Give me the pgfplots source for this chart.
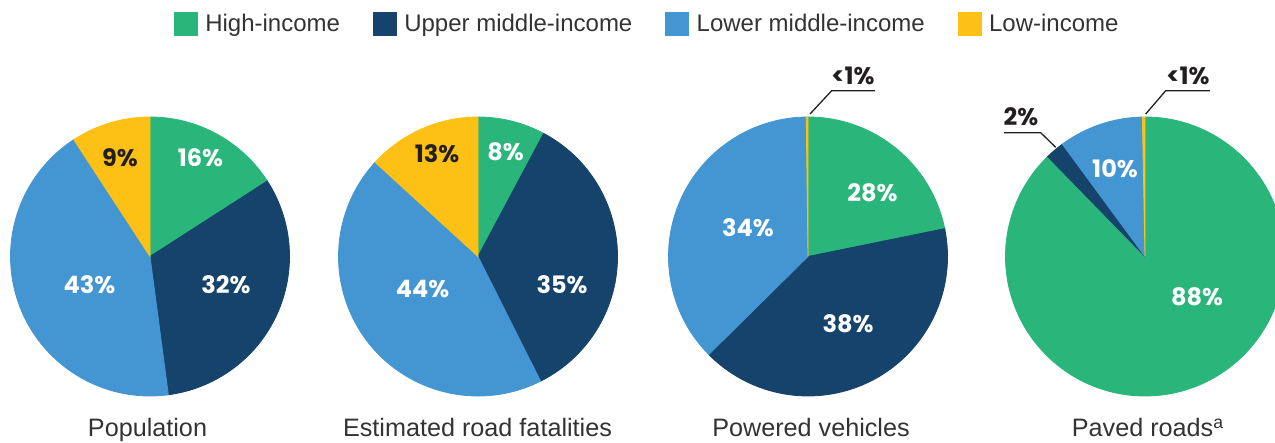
\documentclass[border=0pt]{standalone}
\usepackage{fontspec}
\setmainfont{Liberation Sans}
\newfontfamily\lbl{Poppins}
\usepackage{pgfplots}
\pgfplotsset{compat=1.18}
\usepackage{pgfplotstable}

\definecolor{hi}{HTML}{2AB67A}
\definecolor{up}{HTML}{16436C}
\definecolor{lo}{HTML}{4496D3}
\definecolor{lw}{HTML}{FDC014}
\definecolor{ink}{HTML}{231F20}
\definecolor{txt}{HTML}{333333}

% one row per pie: x = pie centre, y = centre height, start and share in %
\pgfplotstableread{
x    y     start pct
150  186.5 0     15.9
478  186.5 0     7.8
808  186.5 0     21.8
1145 186.5 0     87.7
}\tabHigh
\pgfplotstableread{
x    y     start pct
150  186.5 15.9  32.0
478  186.5 7.8   34.8
808  186.5 21.8  40.8
1145 186.5 87.7  2.2
}\tabUpper
\pgfplotstableread{
x    y     start pct
150  186.5 47.9  42.9
478  186.5 42.6  44.2
808  186.5 62.6  37.2
1145 186.5 89.9  9.8
}\tabLower
\pgfplotstableread{
x    y     start pct
150  186.5 90.8  9.2
478  186.5 86.8  13.2
808  186.5 99.8  0.2
1145 186.5 99.7  0.3
}\tabLow

\pgfdeclareplotmark{nothing}{}
\def\R{69.75pt}
\pgfplotsset{
  pie slice/.style={
    forget plot,
    scatter, only marks, mark=nothing,
    point meta=explicit,
    visualization depends on={\thisrow{start} \as \slicestart},
    visualization depends on={\thisrow{pct} \as \slicepct},
    scatter/@pre marker code/.code={%
      \pgfmathsetmacro\sliceA{90-3.6*\slicestart}%
      \pgfmathsetmacro\sliceB{90-3.6*(\slicestart+\slicepct)}%
      \fill[#1] (0,0) -- (\sliceA:\R) arc[start angle=\sliceA, end angle=\sliceB, radius=\R] -- cycle;},
    scatter/@post marker code/.code={},
  },
  pie key/.style={
    legend image code/.code={\fill[#1] (0pt,-5.75pt) rectangle (11.5pt,5.75pt);},
  },
}
\tikzset{
  lab/.style={font=\lbl\bfseries\fontsize{12}{14}\selectfont, text=white, inner sep=0pt},
  dlab/.style={lab, text=ink},
  ttl/.style={font=\fontsize{12.6}{15}\selectfont, text=txt, anchor=base, inner sep=0pt},
}

\begin{document}
\begin{tikzpicture}
\begin{axis}[
  width=637.5pt, height=221.5pt, scale only axis,
  xmin=0, xmax=1275, ymin=0, ymax=443,
  hide axis, clip=false, set layers,
  point meta min=0, point meta max=100,
  legend columns=4,
  legend style={draw=none, fill=none, inner sep=0pt, outer sep=0pt,
    at={(axis cs:174,419)}, anchor=west,
    font=\fontsize{12}{14}\selectfont, text=txt,
    nodes={inner sep=0pt},
    /tikz/every odd column/.append style={column sep=3.75pt},
    /tikz/every even column/.append style={column sep=16.5pt}},
]
\addplot[pie slice=hi] table[meta=pct] {\tabHigh};
\addplot[pie slice=up] table[meta=pct] {\tabUpper};
\addplot[pie slice=lo] table[meta=pct] {\tabLower};
\addplot[pie slice=lw] table[meta=pct] {\tabLow};

\addlegendimage{pie key=hi}
\addlegendentry{High-income}
\addlegendimage{pie key=up}
\addlegendentry{Upper middle-income}
\addlegendimage{pie key=lo}
\addlegendentry{Lower middle-income}
\addlegendimage{pie key=lw}
\addlegendentry{Low-income}

\begin{pgfonlayer}{axis foreground}
% slice labels
\node[lab]  at (axis cs:200.5,285) {16\%};
\node[dlab] at (axis cs:120,285)   {9\%};
\node[lab]  at (axis cs:226,158)   {32\%};
\node[lab]  at (axis cs:89.5,158)  {43\%};

\node[lab]  at (axis cs:505.5,291) {8\%};
\node[dlab] at (axis cs:437,289)   {13\%};
\node[lab]  at (axis cs:562,158)   {35\%};
\node[lab]  at (axis cs:422.5,154) {44\%};

\node[lab]  at (axis cs:872.5,250) {28\%};
\node[lab]  at (axis cs:748,215)   {34\%};
\node[lab]  at (axis cs:848,119.5) {38\%};
\node[dlab] at (axis cs:853,367.2) {<1\%};

\node[lab]  at (axis cs:1115,274.5) {10\%};
\node[lab]  at (axis cs:1197,146.5) {88\%};
\node[dlab] at (axis cs:1021,326.3) {2\%};
\node[dlab] at (axis cs:1188,367.5) {<1\%};

% leader lines
\draw[ink, line width=0.65pt] (axis cs:810,329) -- (axis cs:831.7,352.3) -- (axis cs:875,352.3);
\draw[ink, line width=0.65pt] (axis cs:1145.7,329) -- (axis cs:1165.7,352.3) -- (axis cs:1210,352.3);
\draw[ink, line width=0.65pt] (axis cs:1055.7,295.7) -- (axis cs:1040.7,310.3) -- (axis cs:1004,310.3);

% pie titles
\node[ttl] at (axis cs:147.5,6) {Population};
\node[ttl] at (axis cs:477.5,6) {Estimated road fatalities};
\node[ttl] at (axis cs:811,6)   {Powered vehicles};
\node[ttl] at (axis cs:1148,6)  {Paved roads\textsuperscript{a}};
\end{pgfonlayer}
\end{axis}
\pgfresetboundingbox
\path[use as bounding box] (current axis.south west) rectangle (current axis.north east);
\end{tikzpicture}
\end{document}
